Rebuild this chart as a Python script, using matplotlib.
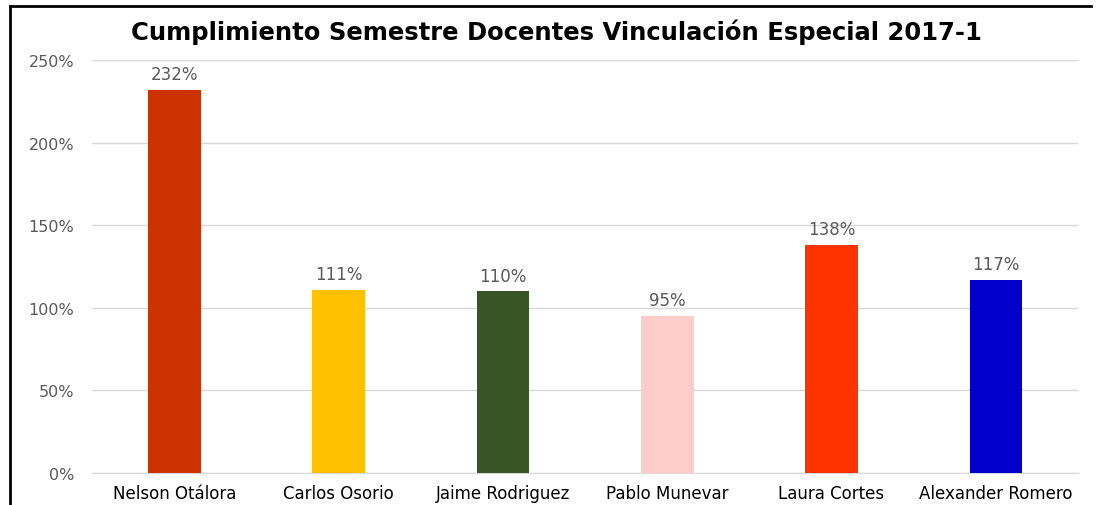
import matplotlib
matplotlib.use("Agg")
import matplotlib.pyplot as plt
from matplotlib.ticker import FuncFormatter

plt.rcParams['font.family'] = ['DejaVu Sans']

docentes = ["Nelson Otálora", "Carlos Osorio", "Jaime Rodriguez",
            "Pablo Munevar", "Laura Cortes", "Alexander Romero"]
cumplimiento = [2.32, 1.11, 1.10, 0.95, 1.38, 1.17]
colores = ["#CC3300", "#FFC000", "#375623", "#FFCCCC", "#FF3300", "#0000CC"]
etiquetas = ["232%", "111%", "110%", "95%", "138%", "117%"]

fig = plt.figure(figsize=(10.96, 5.06), dpi=100)
ax = fig.add_axes([0.084, 0.0632, 0.8996, 0.8162])

x = range(len(docentes))
bars = ax.bar(x, cumplimiento, width=0.32, color=colores, zorder=3)

for b, t in zip(bars, etiquetas):
    ax.text(b.get_x() + b.get_width() / 2, b.get_height() + 0.04, t,
            ha="center", va="bottom", fontsize=12, color="#595959")

ax.set_xlim(-0.5, 5.5)
ax.set_ylim(0, 2.5)
ax.set_yticks([0, 0.5, 1.0, 1.5, 2.0, 2.5])
ax.yaxis.set_major_formatter(FuncFormatter(lambda v, p: "%d%%" % round(v * 100)))
ax.set_xticks(list(x))
ax.set_xticklabels(docentes)
ax.tick_params(axis="y", length=0, labelsize=11.5, labelcolor="#595959", pad=13)
ax.tick_params(axis="x", length=0, labelsize=12, labelcolor="#000000", pad=8)
ax.grid(axis="y", color="#D9D9D9", linewidth=1, zorder=0)
for s in ["top", "right", "left"]:
    ax.spines[s].set_visible(False)
ax.spines["bottom"].set_color("#D9D9D9")

fig.text(0.508, 0.937, "Cumplimiento Semestre Docentes Vinculación Especial 2017-1",
         ha="center", va="center", fontsize=17.5, fontweight="bold", color="black")

# marco negro arriba e izquierda
fig.add_artist(plt.Line2D([0.009, 0.995], [0.986, 0.986], color="black", lw=2,
                          transform=fig.transFigure))
fig.add_artist(plt.Line2D([0.009, 0.009], [0.0, 0.986], color="black", lw=2,
                          transform=fig.transFigure))

fig.savefig("out.png", dpi=100)
